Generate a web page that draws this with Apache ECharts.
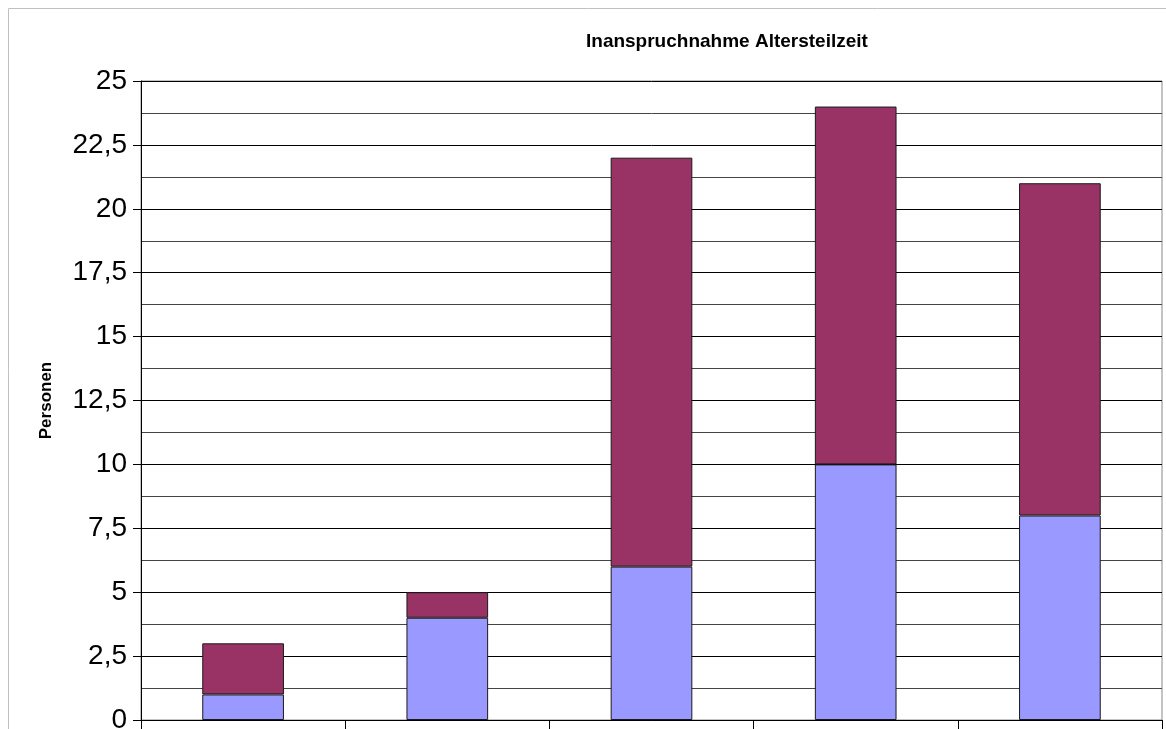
<!DOCTYPE html>
<html>
<head>
<meta charset="utf-8">
<title>Inanspruchnahme Altersteilzeit</title>
<script src="https://cdn.jsdelivr.net/npm/echarts@6/dist/echarts.min.js"></script>
<style>
  html, body { margin: 0; padding: 0; background: #fff; }
  #chart { width: 1166px; height: 729px; }
</style>
</head>
<body>
<div id="chart"></div>
<script>
// categories have no visible labels in the source picture
const categories = ['1', '2', '3', '4', '5'];
const lowerPart = [1, 4, 6, 10, 8];
const upperPart = [2, 1, 16, 14, 13];
const yTicks = [0, 2.5, 5, 7.5, 10, 12.5, 15, 17.5, 20, 22.5, 25];

const chart = echarts.init(document.getElementById('chart'));

const barStyle = color => ({
  color,
  borderColor: '#1a1a1a',
  borderWidth: 1
});

chart.setOption({
  animation: false,
  backgroundColor: '#fff',
  title: {
    text: 'Inanspruchnahme Altersteilzeit',
    left: 581,
    top: 27,
    textStyle: {
      fontFamily: 'Liberation Sans, Arial, sans-serif',
      fontSize: 19,
      fontWeight: 'bold',
      color: '#000'
    }
  },
  graphic: [{
    type: 'rect',
    shape: { x: 8.5, y: 8.5, width: 1170, height: 740 },
    style: { fill: 'none', stroke: '#c0c0c0', lineWidth: 1 },
    silent: true
  }],
  grid: {
    left: 141,
    right: 4,
    top: 81,
    bottom: 9,
    outerBoundsMode: 'none',
    show: true,
    borderColor: '#888',
    borderWidth: 1
  },
  xAxis: {
    type: 'category',
    data: categories,
    boundaryGap: true,
    axisLine: { lineStyle: { color: '#000', width: 1 } },
    axisTick: { show: true, length: 9, lineStyle: { color: '#000' } },
    axisLabel: { show: false },
    splitLine: { show: false }
  },
  yAxis: {
    type: 'value',
    min: 0,
    max: yTicks[yTicks.length - 1],
    interval: 2.5,
    name: 'Personen',
    nameLocation: 'middle',
    nameRotate: 90,
    nameGap: 86,
    nameTextStyle: {
      fontFamily: 'Liberation Sans, Arial, sans-serif',
      fontSize: 17,
      fontWeight: 'bold',
      color: '#000'
    },
    axisLine: { show: true, lineStyle: { color: '#000', width: 1 } },
    axisTick: { show: true, length: 8, lineStyle: { color: '#000' } },
    axisLabel: {
      margin: 14,
      fontFamily: 'Liberation Sans, Arial, sans-serif',
      fontSize: 28,
      color: '#000',
      formatter: v => String(v).replace('.', ',')
    },
    splitLine: { show: true, lineStyle: { color: '#000', width: 1 } },
    minorTick: { show: false, splitNumber: 2 },
    minorSplitLine: { show: true, lineStyle: { color: '#444', width: 1 } }
  },
  series: [
    {
      name: 'unten',
      type: 'bar',
      stack: 'total',
      barWidth: '40%',
      data: lowerPart,
      itemStyle: barStyle('#9999ff')
    },
    {
      name: 'oben',
      type: 'bar',
      stack: 'total',
      barWidth: '40%',
      data: upperPart,
      itemStyle: barStyle('#993366')
    }
  ]
});
</script>
</body>
</html>
